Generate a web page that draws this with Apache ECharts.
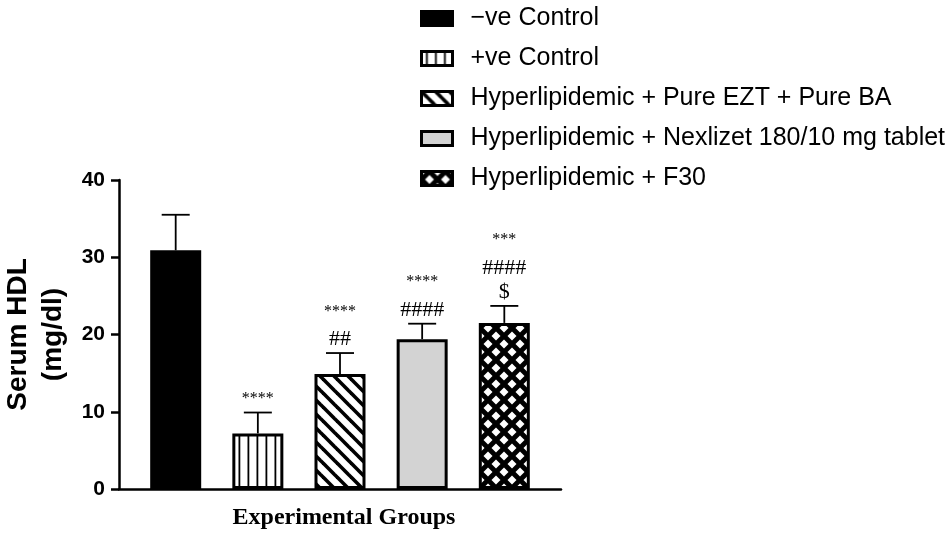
<!DOCTYPE html>
<html lang="en">
<head>
    <meta charset="UTF-8">
    <script src="https://cdn.jsdelivr.net/npm/echarts@6/dist/echarts.min.js"></script>
    <title>Serum HDL</title>
    <style>
        html, body { margin: 0; padding: 0; background: #fff; }
        #chart { width: 950px; height: 535px; }
    </style>
</head>
<body>
    <div id="chart"></div>
    <script>
        // groups (legend / series names)
        const groups = [
            '\u2212ve Control',
            '+ve Control',
            'Hyperlipidemic + Pure EZT + Pure BA',
            'Hyperlipidemic + Nexlizet 180/10 mg tablet',
            'Hyperlipidemic + F30'
        ]
        // mean serum HDL (mg/dl)
        const means = [30.9, 7.2, 14.9, 19.4, 21.5]
        // SD (upper whisker only)
        const sds = [4.6, 2.7, 2.7, 2.0, 2.2]
        // significance marks, bottom line first
        const marks = [
            [],
            ['****'],
            ['##', '****'],
            ['####', '****'],
            ['$', '####', '***']
        ]
        const yTicks = [0, 10, 20, 30, 40]

        // fill patterns
        function tile(size, draw) {
            const c = document.createElement('canvas')
            c.width = size[0]
            c.height = size[1]
            draw(c.getContext('2d'))
            return { image: c, repeat: 'repeat' }
        }
        const vStripes = tile([9, 9], ctx => {
            ctx.fillStyle = '#fff'
            ctx.fillRect(0, 0, 9, 9)
            ctx.fillStyle = '#000'
            ctx.fillRect(4.5, 0, 1.8, 9)
        })
        const diag = tile([14, 14], ctx => {
            ctx.fillStyle = '#fff'
            ctx.fillRect(0, 0, 14, 14)
            ctx.strokeStyle = '#000'
            ctx.lineWidth = 3.6
            for (let k = -1; k <= 1; k++) {
                ctx.beginPath()
                ctx.moveTo(k * 14 - 2, -2)
                ctx.lineTo(k * 14 + 16, 16)
                ctx.stroke()
            }
        })
        const diamonds = tile([16, 16], ctx => {
            ctx.fillStyle = '#000'
            ctx.fillRect(0, 0, 16, 16)
            ctx.fillStyle = '#fff'
            const d = 4.5
            ;[[8, 8], [0, 0], [16, 0], [0, 16], [16, 16]].forEach(p => {
                ctx.beginPath()
                ctx.moveTo(p[0], p[1] - d)
                ctx.lineTo(p[0] + d, p[1])
                ctx.lineTo(p[0], p[1] + d)
                ctx.lineTo(p[0] - d, p[1])
                ctx.closePath()
                ctx.fill()
            })
        })
        const fills = ['#000', vStripes, diag, '#d3d3d3', diamonds]

        const chart = echarts.init(document.getElementById('chart'), null, { renderer: 'canvas' })

        const barSeries = groups.map((name, i) => ({
            name: name,
            type: 'bar',
            barWidth: 51,
            barGap: '-100%',
            data: [[i, means[i]]],
            itemStyle: {
                color: fills[i],
                borderColor: '#000',
                borderWidth: 3
            },
            z: 2
        }))

        const errorSeries = {
            type: 'custom',
            data: means.map((m, i) => [i, m, m + sds[i]]),
            z: 3,
            renderItem: function (params, api) {
                const base = api.coord([api.value(0), api.value(1)])
                const top = api.coord([api.value(0), api.value(2)])
                const half = 14
                const style = { stroke: '#000', lineWidth: 1.8 }
                return {
                    type: 'group',
                    children: [
                        { type: 'line', shape: { x1: base[0], y1: base[1], x2: top[0], y2: top[1] }, style: style },
                        { type: 'line', shape: { x1: top[0] - half, y1: top[1], x2: top[0] + half, y2: top[1] }, style: style }
                    ]
                }
            }
        }

        const markSeries = {
            type: 'custom',
            data: means.map((m, i) => [i, m + sds[i]]),
            z: 4,
            renderItem: function (params, api) {
                const p = api.coord([api.value(0), api.value(1)])
                const lines = marks[params.dataIndex]
                let off = -13.5
                return {
                    type: 'group',
                    children: lines.map((s, k) => {
                        if (k > 0) off -= (lines[k - 1] === '$' ? 24.5 : 28)
                        const star = s[0] === '*'
                        return {
                            type: 'text',
                            style: {
                                text: s,
                                x: p[0],
                                y: p[1] + off,
                                align: 'center',
                                verticalAlign: 'middle',
                                fontFamily: 'Liberation Serif',
                                fontSize: star ? 16 : 22,
                                fill: '#000'
                            }
                        }
                    })
                }
            }
        }

        const option = {
            animation: false,
            backgroundColor: '#fff',
            grid: {
                left: 118,
                right: 389,
                top: 180,
                bottom: 46
            },
            legend: {
                data: groups,
                orient: 'vertical',
                left: 415,
                top: 1,
                icon: 'rect',
                itemWidth: 31,
                itemHeight: 14,
                itemGap: 15,
                selectedMode: false,
                itemStyle: {
                    borderColor: '#000',
                    borderWidth: 3
                },
                textStyle: {
                    fontFamily: 'Liberation Sans',
                    fontSize: 25,
                    color: '#000',
                    padding: [0, 0, 0, 13]
                }
            },
            xAxis: {
                type: 'value',
                min: -0.69,
                max: 4.69,
                name: 'Experimental Groups',
                nameLocation: 'middle',
                nameGap: 17,
                nameTextStyle: {
                    fontFamily: 'Liberation Serif',
                    fontWeight: 'bold',
                    fontSize: 24,
                    color: '#000',
                    padding: [0, 0, 0, 8]
                },
                axisLine: { onZero: false, lineStyle: { color: '#000', width: 2.5 } },
                axisTick: { show: false },
                axisLabel: { show: false },
                splitLine: { show: false }
            },
            yAxis: {
                type: 'value',
                min: yTicks[0],
                max: yTicks[yTicks.length - 1],
                interval: 10,
                name: 'Serum HDL\n(mg/dl)',
                nameLocation: 'middle',
                nameGap: 48,
                nameTextStyle: {
                    fontFamily: 'Liberation Sans',
                    fontWeight: 'bold',
                    fontSize: 28,
                    lineHeight: 35,
                    color: '#000'
                },
                axisLine: { show: true, onZero: false, lineStyle: { color: '#000', width: 2.5 } },
                axisTick: { show: true, length: 8, lineStyle: { color: '#000', width: 2.5 } },
                axisLabel: {
                    margin: 14,
                    fontFamily: 'Liberation Sans',
                    fontWeight: 'bold',
                    fontSize: 21,
                    color: '#000'
                },
                splitLine: { show: false }
            },
            series: barSeries.concat([errorSeries, markSeries])
        }
        chart.setOption(option)
    </script>
</body>
</html>
